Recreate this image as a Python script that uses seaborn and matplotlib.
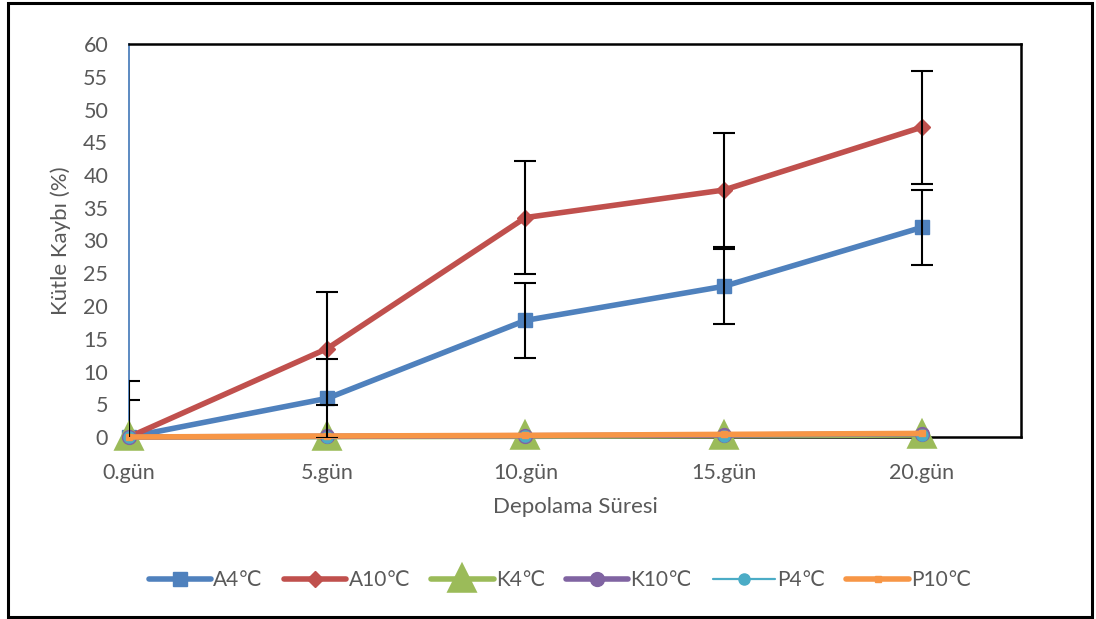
import pandas as pd
import numpy as np
import seaborn as sns
import matplotlib.pyplot as plt
from matplotlib.patches import Rectangle

# === Data ===
days = ['0.gün', '5.gün', '10.gün', '15.gün', '20.gün']

a4 = [0.0, 5.9, 17.8, 23.0, 32.0]
a4_err = [5.6, 6.0, 5.7, 5.7, 5.7]
a10 = [0.0, 13.5, 33.5, 37.7, 47.3]
a10_err = [8.5, 8.6, 8.6, 8.7, 8.6]
k4 = [0.0, 0.05, 0.1, 0.2, 0.3]
k10 = [0.0, 0.1, 0.2, 0.3, 0.5]
p4 = [0.0, 0.05, 0.1, 0.2, 0.3]
p10 = [0.0, 0.15, 0.25, 0.4, 0.55]

series = {
    'A4℃': a4, 'A10℃': a10, 'K4℃': k4,
    'K10℃': k10, 'P4℃': p4, 'P10℃': p10,
}
colors = ['#4F81BD', '#C0504D', '#9BBB59', '#8064A2', '#4BACC6', '#F79646']
markers = ['s', 'D', '^', 'o', 'o', 's']
msizes = [10, 8, 16, 10, 8, 4]
medges = [1, 1, 4, 1, 1, 1]
lwidths = [4.0, 4.0, 4.0, 4.0, 1.6, 4.0]

sns.set_style('white')
plt.rcParams['font.family'] = ['Lato', 'DejaVu Sans']
text_col = '#595959'

fig = plt.figure(figsize=(10.96, 6.19), dpi=100)
ax = fig.add_axes([129 / 1096, 1 - 437 / 619, (1021 - 129) / 1096, (437 - 44) / 619])

xpos = np.arange(len(days))
for (name, vals), c, m, ms, me, lw in zip(series.items(), colors, markers, msizes, medges, lwidths):
    df = pd.DataFrame({'x': xpos, 'y': vals})
    sns.lineplot(data=df, x='x', y='y', ax=ax, color=c, marker=m, markersize=ms,
                 linewidth=lw, markeredgecolor=c, markeredgewidth=me,
                 label=name, clip_on=False, zorder=3)
for ln in ax.lines:
    ln.set_solid_joinstyle('round')

# error bars (clipped at 0 like the original)
for vals, errs in [(a4, a4_err), (a10, a10_err)]:
    ax.errorbar(xpos, vals, yerr=errs, fmt='none', ecolor='black',
                elinewidth=1.5, capsize=8, capthick=1.5, zorder=4)

ax.set_xlim(0, 4.5)
ax.set_ylim(0, 60)
ax.set_yticks(range(0, 61, 5))
ax.set_xticks(xpos)
ax.set_xticklabels(days)
ax.tick_params(axis='both', length=0, labelsize=15.5, colors=text_col)
ax.tick_params(axis='x', pad=19)
ax.tick_params(axis='y', pad=15)

ax.set_xlabel('Depolama Süresi', fontsize=16, color=text_col, labelpad=10)
ax.set_ylabel('Kütle Kaybı (%)', fontsize=16, color=text_col, labelpad=9)

for s in ['top', 'right', 'bottom']:
    ax.spines[s].set_color('black')
    ax.spines[s].set_linewidth(1.8)
ax.spines['left'].set_color('#4F81BD')
ax.spines['left'].set_linewidth(1.3)

leg = ax.legend(loc='center', bbox_to_anchor=(560 / 1096, 1 - 580 / 619),
                bbox_transform=fig.transFigure, ncol=6, frameon=False,
                fontsize=15, handlelength=3.0, handletextpad=0.1, columnspacing=1.0)
for t in leg.get_texts():
    t.set_color(text_col)

# outer chart border
fig.patches.append(Rectangle((8 / 1096, 2 / 619), (1092 - 8) / 1096, (616 - 2) / 619,
                             transform=fig.transFigure, fill=False,
                             edgecolor='black', linewidth=2.2))

fig.savefig('out.png', dpi=100)
